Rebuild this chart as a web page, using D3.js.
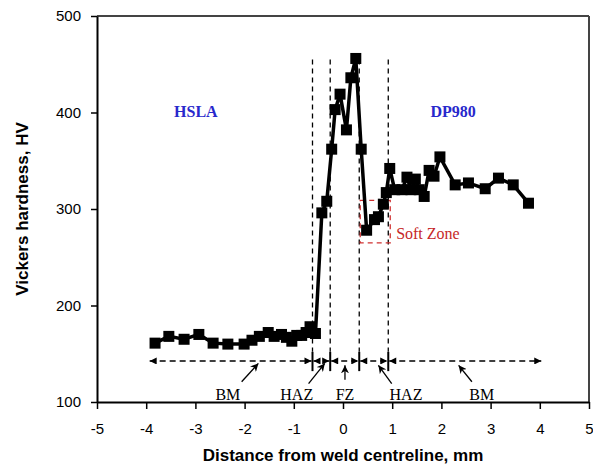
<!DOCTYPE html>
<html>
<head>
<meta charset="utf-8">
<script src="https://cdn.jsdelivr.net/npm/d3@7"></script>
<style>
  body { margin: 0; background: #fff; }
  .tick text { font-family: "Liberation Sans", Arial, sans-serif; font-size: 15px; fill: #000; }
  .ann { font-family: "Liberation Serif", "Times New Roman", serif; font-size: 16px; }
</style>
</head>
<body>
<div id="chart"></div>
<script>
// hardness traverse across the weld (mm, HV)
var distance = [-3.82, -3.54, -3.23, -2.93, -2.64, -2.34, -2.01, -1.85, -1.7, -1.52, -1.4, -1.25, -1.15, -1.04, -0.94, -0.84, -0.75, -0.67, -0.56,
  -0.43, -0.33, -0.23, -0.16, -0.06, 0.07, 0.16, 0.26, 0.37, 0.48, 0.64, 0.72, 0.82, 0.88, 0.95,
  1.05, 1.2, 1.3, 1.38, 1.47, 1.55, 1.65, 1.75, 1.85, 1.97, 2.28, 2.55, 2.89, 3.16, 3.46, 3.77];
var hardness = [161, 168, 165, 170, 161, 160, 160, 164, 168, 172, 168, 170, 167, 163, 169, 169, 172, 178, 171,
  296, 308, 362, 403, 419, 382, 436, 456, 362, 278, 289, 292, 305, 317, 342,
  320, 320, 333, 320, 331, 320, 313, 340, 334, 354, 325, 327, 321, 332, 325, 306];

var xTicks = [-5, -4, -3, -2, -1, 0, 1, 2, 3, 4, 5];
var yTicks = [100, 200, 300, 400, 500];

// zone boundaries and labels
var zoneBounds = [-3.95, -0.62, -0.26, 0.33, 0.92, 4.05];
var zoneNames = ["BM", "HAZ", "FZ", "HAZ", "BM"];
var zoneLabelX = [-2.34, -0.94, 0.04, 1.28, 2.82];
var pointerFrom = [[-2.06, 121], [-0.70, 119], [0.04, 123], [0.99, 119], [2.62, 121]];
var pointerTo = [[-1.72, 140], [-0.37, 140], [0.04, 138], [0.72, 138], [2.35, 138]];

var materials = ["HSLA", "DP980"];
var materialX = [-2.99, 2.24];

var softZone = {x0: 0.35, x1: 0.96, y0: 265, y1: 309};

var margin = {top: 16, right: 4, bottom: 72, left: 97},
    width = 593 - margin.left - margin.right,
    height = 474 - margin.top - margin.bottom;

var x = d3.scaleLinear().domain([-5, 5]).range([0, width]);
var y = d3.scaleLinear().domain([100, 500]).range([height, 0]);

var svg = d3.select("#chart").append("svg")
    .attr("width", 593)
    .attr("height", 474);

var defs = svg.append("defs");
defs.append("marker")
    .attr("id", "arr")
    .attr("viewBox", "0 0 10 10")
    .attr("refX", 10).attr("refY", 5)
    .attr("markerWidth", 9).attr("markerHeight", 7)
    .attr("markerUnits", "userSpaceOnUse")
    .attr("orient", "auto-start-reverse")
  .append("path")
    .attr("d", "M0,0L10,5L0,10z")
    .attr("fill", "#000");
defs.append("marker")
    .attr("id", "arrSmall")
    .attr("viewBox", "0 0 10 10")
    .attr("refX", 10).attr("refY", 5)
    .attr("markerWidth", 8).attr("markerHeight", 8)
    .attr("markerUnits", "userSpaceOnUse")
    .attr("orient", "auto")
  .append("path")
    .attr("d", "M0,0L10,5L0,10L3,5z")
    .attr("fill", "#000");

var g = svg.append("g")
    .attr("transform", "translate(" + margin.left + "," + margin.top + ")");

// frame top / right
g.append("line").attr("x1", 0).attr("x2", width).attr("y1", 0).attr("y2", 0)
    .attr("stroke", "#444").attr("stroke-width", 2);
g.append("line").attr("x1", width).attr("x2", width).attr("y1", 0).attr("y2", height)
    .attr("stroke", "#444").attr("stroke-width", 2);

// axes
var xAxis = g.append("g")
    .attr("transform", "translate(0," + height + ")")
    .call(d3.axisBottom(x).tickValues(xTicks).tickSize(7).tickSizeOuter(0).tickPadding(14)
      .tickFormat(function(d) { return String(d); }));
var yAxis = g.append("g")
    .call(d3.axisLeft(y).tickValues(yTicks).tickSize(6).tickSizeOuter(0).tickPadding(10)
      .tickFormat(function(d) { return String(d); }));
[xAxis, yAxis].forEach(function(a) {
  a.select(".domain").attr("stroke-width", 2);
  a.selectAll(".tick line").attr("stroke-width", 1.5);
});

// dashed zone boundaries
zoneBounds.slice(1, -1).forEach(function(b) {
  g.append("line")
      .attr("x1", x(b)).attr("x2", x(b))
      .attr("y1", y(455)).attr("y2", y(152))
      .attr("stroke", "#000").attr("stroke-width", 1.3)
      .attr("stroke-dasharray", "5,4");
  g.append("line")
      .attr("x1", x(b)).attr("x2", x(b))
      .attr("y1", y(152)).attr("y2", y(132))
      .attr("stroke", "#000").attr("stroke-width", 2);
});

// zone extent arrows
for (var i = 0; i < zoneNames.length; i++) {
  g.append("line")
      .attr("x1", x(zoneBounds[i]) + 1).attr("x2", x(zoneBounds[i + 1]) - 1)
      .attr("y1", y(142.5)).attr("y2", y(142.5))
      .attr("stroke", "#000").attr("stroke-width", 1.3)
      .attr("stroke-dasharray", "6,4")
      .attr("marker-start", "url(#arr)")
      .attr("marker-end", "url(#arr)");
  g.append("line")
      .attr("x1", x(pointerFrom[i][0])).attr("y1", y(pointerFrom[i][1]))
      .attr("x2", x(pointerTo[i][0])).attr("y2", y(pointerTo[i][1]))
      .attr("stroke", "#000").attr("stroke-width", 1.3)
      .attr("marker-end", "url(#arrSmall)");
  g.append("text")
      .attr("class", "ann")
      .attr("x", x(zoneLabelX[i]))
      .attr("y", y(102))
      .attr("text-anchor", "middle")
      .text(zoneNames[i]);
}

// material labels
materials.forEach(function(m, j) {
  g.append("text")
      .attr("class", "ann")
      .attr("x", x(materialX[j]))
      .attr("y", y(395))
      .attr("text-anchor", "middle")
      .attr("font-weight", "bold")
      .attr("font-size", "16px")
      .attr("fill", "#2828cc")
      .text(m);
});

// soft zone box
g.append("rect")
    .attr("x", x(softZone.x0)).attr("y", y(softZone.y1))
    .attr("width", x(softZone.x1) - x(softZone.x0))
    .attr("height", y(softZone.y0) - y(softZone.y1))
    .attr("fill", "none")
    .attr("stroke", "#d03030").attr("stroke-width", 1.3)
    .attr("stroke-dasharray", "5,4");
g.append("text")
    .attr("class", "ann")
    .attr("x", x(1.08)).attr("y", y(269))
    .attr("fill", "#c62828")
    .text("Soft Zone");

// data line and markers
var data = distance.map(function(d, k) { return {x: d, v: hardness[k]}; });
var valueline = d3.line()
    .x(function(d) { return x(d.x); })
    .y(function(d) { return y(d.v); });
g.append("path")
    .datum(data)
    .attr("d", valueline)
    .attr("fill", "none")
    .attr("stroke", "#000")
    .attr("stroke-width", 3.5);
g.selectAll(".pt")
    .data(data)
  .enter().append("rect")
    .attr("class", "pt")
    .attr("x", function(d) { return x(d.x) - 5.5; })
    .attr("y", function(d) { return y(d.v) - 5.5; })
    .attr("width", 11).attr("height", 11)
    .attr("fill", "#000");

// axis titles
svg.append("text")
    .attr("transform", "translate(28," + (margin.top + height / 2) + ") rotate(-90)")
    .attr("text-anchor", "middle")
    .attr("font-family", "Liberation Sans, Arial, sans-serif")
    .attr("font-weight", "bold")
    .attr("font-size", "17px")
    .text("Vickers hardness, HV");
svg.append("text")
    .attr("x", margin.left + width / 2)
    .attr("y", 461)
    .attr("text-anchor", "middle")
    .attr("font-family", "Liberation Sans, Arial, sans-serif")
    .attr("font-weight", "bold")
    .attr("font-size", "17px")
    .text("Distance from weld centreline, mm");
</script>
</body>
</html>
